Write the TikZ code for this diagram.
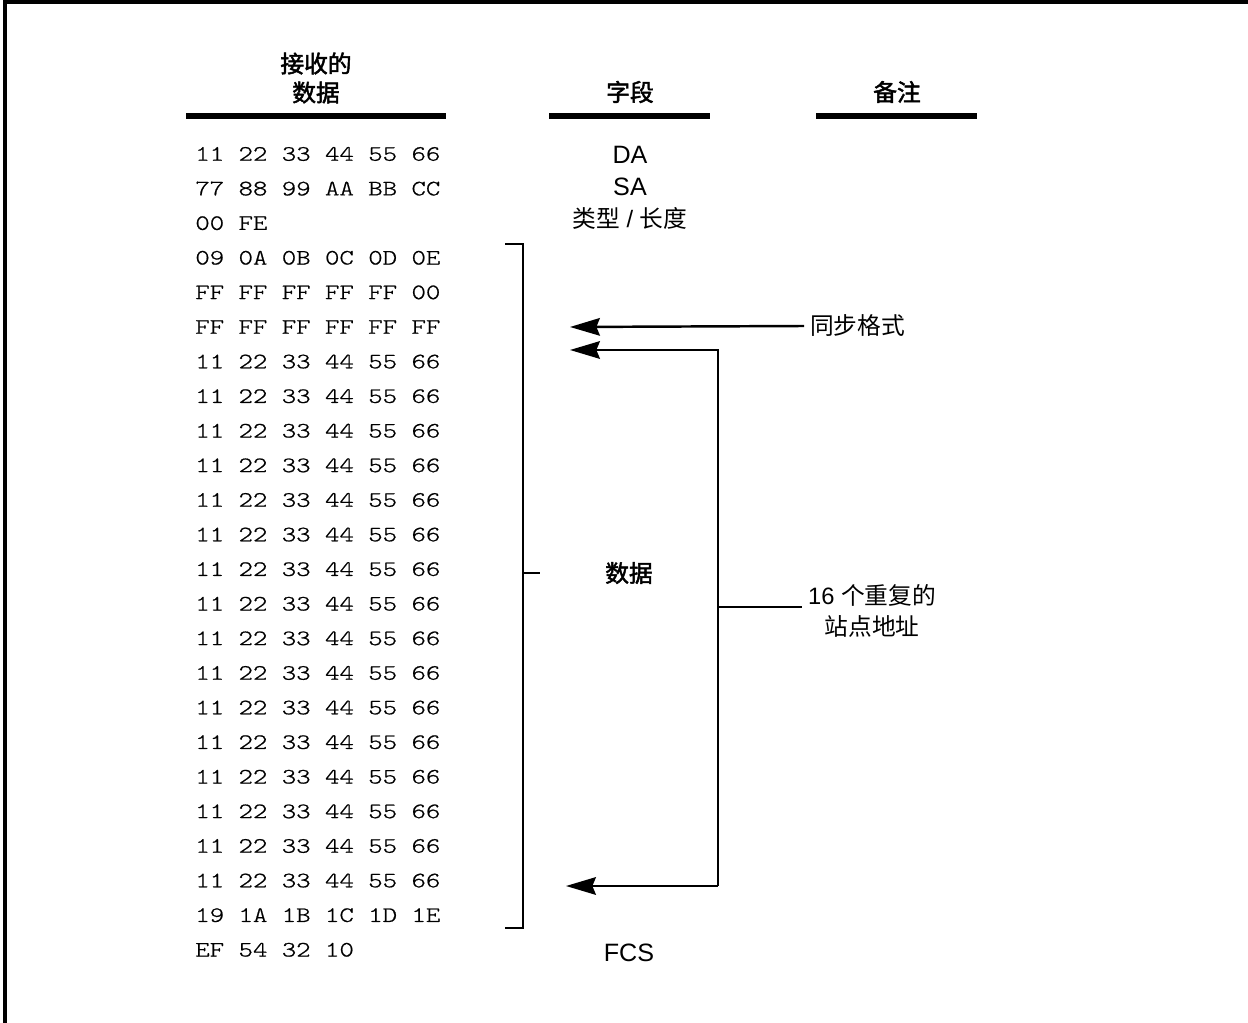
\documentclass[tikz,border=0pt]{standalone}
\usepackage{fontspec}
\usetikzlibrary{arrows.meta}
\setmainfont{Liberation Sans}
\newfontfamily\cjk{Noto Sans CJK SC}
\newfontfamily\cjkbf{Noto Sans CJK SC}[FakeBold=2]
\newfontfamily\hexfont{lmmonolt10-regular.otf}[FakeStretch=1.25, FakeBold=0.8]

\tikzset{
	hexrow/.style={anchor=west, inner sep=0pt, font=\hexfont\fontsize{12.5}{15}\selectfont},
	field/.style={font=\fontsize{14.3}{17}\selectfont},
	heading/.style={font=\cjkbf\fontsize{13.5}{15.5}\selectfont, align=center},
	note/.style={font=\fontsize{13.5}{16}\selectfont, align=center},
	rule/.style={line width=3.4pt},
	arr/.style={-{Stealth[length=17pt, width=10pt, inset=2pt]}, line width=1.4pt}
}

\begin{document}
\begin{tikzpicture}[x=0.02cm, y=-0.02cm]
	\useasboundingbox (0,0) rectangle (1248,1023);

	% Frame
	\draw[line width=1.9pt] (5,1023) -- (5,2) -- (1248,2);

	% Column headings
	\node[heading] (H1) at (316,78) {接收的\\[1pt]数据};
	\node[heading] (H2) at (630,92) {字段};
	\node[heading] (H3) at (897,92) {备注};
	\draw[rule] (186,116) -- (446,116);
	\draw[rule] (549,116) -- (710,116);
	\draw[rule] (816,116) -- (977,116);

	% Received bytes
	\node[hexrow] (R1) at (195,154) {11 22 33 44 55 66};
	\node[hexrow] (R2) at (195,188.6) {77 88 99 AA BB CC};
	\node[hexrow] (R3) at (195,223.2) {00 FE};
	\node[hexrow] (R4) at (195,257.8) {09 0A 0B 0C 0D 0E};
	\node[hexrow] (R5) at (195,292.4) {FF FF FF FF FF 00};
	\node[hexrow] (R6) at (195,327) {FF FF FF FF FF FF};
	\node[hexrow] (R7) at (195,361.6) {11 22 33 44 55 66};
	\node[hexrow] (R8) at (195,396.2) {11 22 33 44 55 66};
	\node[hexrow] (R9) at (195,430.8) {11 22 33 44 55 66};
	\node[hexrow] (R10) at (195,465.4) {11 22 33 44 55 66};
	\node[hexrow] (R11) at (195,500) {11 22 33 44 55 66};
	\node[hexrow] (R12) at (195,534.6) {11 22 33 44 55 66};
	\node[hexrow] (R13) at (195,569.2) {11 22 33 44 55 66};
	\node[hexrow] (R14) at (195,603.8) {11 22 33 44 55 66};
	\node[hexrow] (R15) at (195,638.4) {11 22 33 44 55 66};
	\node[hexrow] (R16) at (195,673) {11 22 33 44 55 66};
	\node[hexrow] (R17) at (195,707.6) {11 22 33 44 55 66};
	\node[hexrow] (R18) at (195,742.2) {11 22 33 44 55 66};
	\node[hexrow] (R19) at (195,776.8) {11 22 33 44 55 66};
	\node[hexrow] (R20) at (195,811.4) {11 22 33 44 55 66};
	\node[hexrow] (R21) at (195,846) {11 22 33 44 55 66};
	\node[hexrow] (R22) at (195,880.6) {11 22 33 44 55 66};
	\node[hexrow] (R23) at (195,915.2) {19 1A 1B 1C 1D 1E};
	\node[hexrow] (R24) at (195,949.8) {EF 54 32 10};

	% Fields
	\node[field] (DA) at (630,155) {DA};
	\node[field] (SA) at (630,187) {SA};
	\node[note] (TL) at (630,218) {{\cjk 类型} / {\cjk 长度}};
	\node[heading] (DATA) at (629,573) {数据};
	\node[field] (FCS) at (629,953) {FCS};

	% Bracket round the data bytes
	\draw[line width=1.4pt] (505,244) -- (523,244) -- (523,928) -- (505,928);
	\draw[line width=1.4pt] (523,573) -- (540,573);

	% Remarks
	\node[note, anchor=west] (SYNC) at (804,326) {\cjk 同步格式};
	\node[note] (STA) at (872,611) {16 {\cjk 个重复的}\\[2pt]{\cjk 站点地址}};

	\coordinate (T1) at (570,327);
	\coordinate (T2) at (570,350);
	\coordinate (T3) at (566,886);
	\coordinate (J1) at (718,350);
	\coordinate (J2) at (718,607);
	\coordinate (J3) at (718,886);

	\draw[arr] (SYNC.west) -- (T1);
	\draw[arr, line join=miter] (J3) -- (J1) -- (T2);
	\draw[arr] (J3) -- (T3);
	\draw[line width=1.4pt] (J2) -- (J2 -| STA.west);
\end{tikzpicture}
\end{document}
